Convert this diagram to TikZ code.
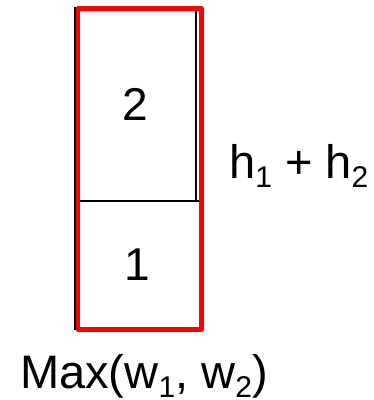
\documentclass[tikz,border=0pt]{standalone}
\usepackage{fontspec}
\setmainfont{Liberation Sans}
\newcommand{\lowidx}[1]{{\fontsize{30}{30}\selectfont\raisebox{-9pt}{#1}}}
\begin{document}
\begin{tikzpicture}[x=1pt,y=-1pt,
  blockbox/.style={draw=black, line width=2pt, inner sep=0pt, font=\fontsize{46}{48}\selectfont},
  outerbox/.style={draw=red, line width=4.5pt, line join=round, inner sep=0pt},
  lbl/.style={anchor=base west, inner sep=0pt, font=\fontsize{47}{48}\selectfont}]
\useasboundingbox (0,0) rectangle (374,400);
\node[blockbox, minimum width=121pt, minimum height=193pt] (b2) at (135.5,104.5) {2};
\node[blockbox, minimum width=125pt, minimum height=128pt] (b1) at (137.5,265) {1};
\node[outerbox, minimum width=123.5pt, minimum height=321pt] (outer) at (139.75,169) {};
\node[lbl] (h) at (229,178) {h\lowidx{1} + h\lowidx{2}};
\node[lbl] (w) at (20,388) {Max(w\lowidx{1}, w\lowidx{2})};
\end{tikzpicture}
\end{document}
